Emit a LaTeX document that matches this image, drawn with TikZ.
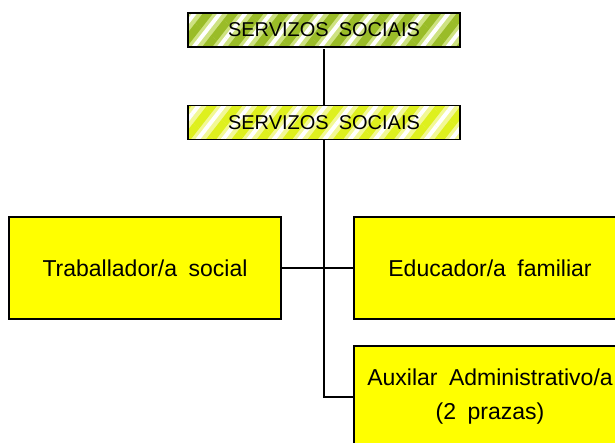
\documentclass[tikz,border=0pt]{standalone}
\usepackage{fontspec}
\setmainfont{Liberation Sans}[WordSpace=1.8]
\usetikzlibrary{patterns.meta}
\definecolor{headgreen}{RGB}{154,188,40}
\definecolor{headpale}{RGB}{206,226,130}
\definecolor{subyellow}{RGB}{222,240,30}
\definecolor{subpale}{RGB}{242,248,150}
\definecolor{boxyellow}{RGB}{255,255,0}
\begin{document}
\begin{tikzpicture}[x=1pt,y=-1pt,line width=1.2pt,
  topbox/.style={rectangle,draw=black,minimum width=272pt,minimum height=34pt,inner sep=0pt,
    font=\fontsize{20}{22}\selectfont},
  headfill/.style={preaction={fill=headpale},
    preaction={pattern={Lines[angle=52,distance=20pt,line width=8pt]},pattern color=headgreen},
    pattern={Lines[angle=52,distance=20pt,line width=4pt,xshift=12pt]},pattern color=white},
  subfill/.style={preaction={fill=subpale},
    preaction={pattern={Lines[angle=52,distance=20pt,line width=8pt]},pattern color=subyellow},
    pattern={Lines[angle=52,distance=20pt,line width=4pt,xshift=12pt]},pattern color=white},
  postbox/.style={rectangle,draw=black,fill=boxyellow,minimum width=272pt,minimum height=102pt,
    inner sep=0pt,align=center,font=\fontsize{23}{34}\selectfont}]
\clip (0,0) rectangle (615,442);
%Node Coordinates
\node at (324,30) [topbox,headfill] (Soc1) {SERVIZOS SOCIAIS};
\node at (324,122.5) [topbox,subfill] (Soc2) {SERVIZOS SOCIAIS};
\node at (145,268) [postbox] (Trab) {Traballador/a social};
\node at (490,268) [postbox] (Educ) {Educador/a familiar};
\node at (490,397) [postbox] (Aux) {Auxilar Administrativo/a\\(2 prazas)};
%connections
\draw (Soc1) -- (Soc2);
\draw (Trab) -- (Educ);
\draw (Soc2) -- (Soc2 |- Aux.west) -- (Aux.west);
\end{tikzpicture}
\end{document}
